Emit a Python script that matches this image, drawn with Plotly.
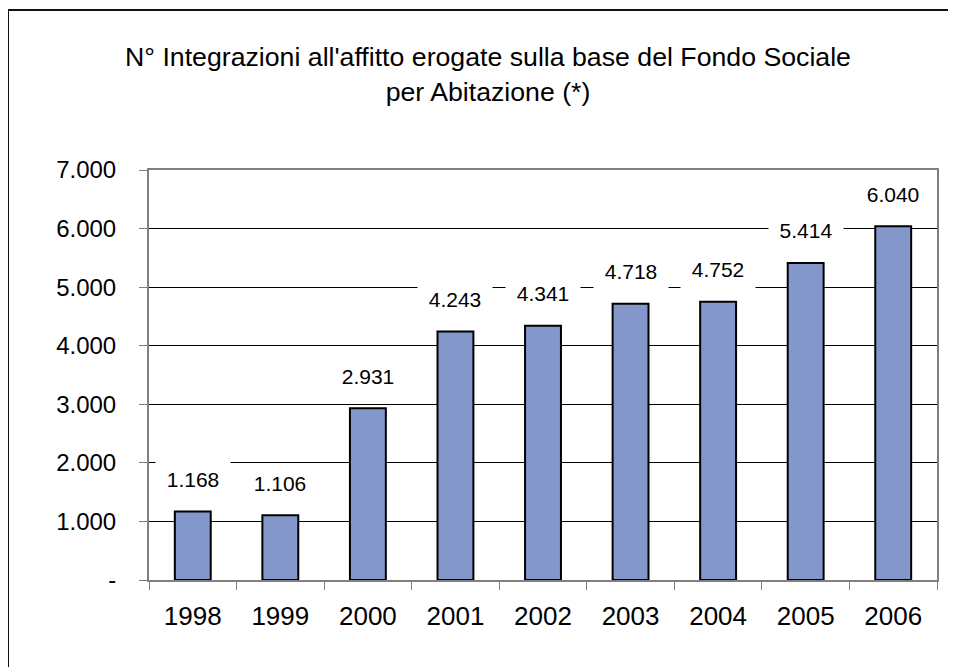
import plotly.graph_objects as go

years = ["1998", "1999", "2000", "2001", "2002", "2003", "2004", "2005", "2006"]
values = [1168, 1106, 2931, 4243, 4341, 4718, 4752, 5414, 6040]
value_labels = ["1.168", "1.106", "2.931", "4.243", "4.341", "4.718", "4.752", "5.414", "6.040"]
y_tickvals = [0, 1000, 2000, 3000, 4000, 5000, 6000, 7000]
y_ticktext = ["-", "1.000", "2.000", "3.000", "4.000", "5.000", "6.000", "7.000"]
title_text = "N° Integrazioni all'affitto erogate sulla base del Fondo Sociale<br>per Abitazione (*)"

FONT = "Liberation Sans, Arial, sans-serif"
OFF = 8  # page body margin
W, H = 948, 659
L, T = 149 - OFF, 170 - OFF
R = W - (937 - OFF)
B = H - (580 - OFF)

fig = go.Figure()
fig.add_trace(go.Bar(
    x=years, y=values,
    marker=dict(color="#8497CB", line=dict(color="#000000", width=2)),
    hoverinfo="skip",
))

annotations = []
for i, (v, lab) in enumerate(zip(values, value_labels)):
    annotations.append(dict(
        x=i, y=v, xref="x", yref="y", text=lab, showarrow=False,
        yshift=32, yanchor="middle", xanchor="center",
        bgcolor="white", width=60, borderpad=7,
        font=dict(family=FONT, size=21, color="black"),
    ))

pw = W - L - R
ph = H - T - B
def px_to_paper_x(px):
    return (px - OFF - L) / pw
def py_to_paper_y(py):
    return (H - B - (py - OFF)) / ph

shapes = [dict(
    type="rect", xref="paper", yref="paper",
    x0=px_to_paper_x(8), x1=px_to_paper_x(990),
    y0=py_to_paper_y(700), y1=py_to_paper_y(10),
    line=dict(color="#111111", width=2), fillcolor="rgba(0,0,0,0)", layer="below",
)]

fig.update_layout(
    width=W, height=H,
    margin=dict(l=L, r=R, t=T, b=B, autoexpand=False),
    paper_bgcolor="white", plot_bgcolor="white",
    bargap=0.59,
    showlegend=False,
    title=dict(
        text=title_text, x=480 / W, xanchor="center", xref="container",
        y=1 - 58 / H, yanchor="middle", yref="container",
        font=dict(family=FONT, size=26.7, color="black"),
    ),
    annotations=annotations,
    shapes=shapes,
    xaxis=dict(
        type="category", range=[-0.5, 8.5], showgrid=False, automargin=False,
        showline=True, linecolor="#808080", linewidth=2, mirror=True,
        ticks="outside", tickson="boundaries", ticklen=8, tickcolor="#808080", tickwidth=1,
        tickfont=dict(family=FONT, size=26, color="black"), tickangle=0,
        ticklabelstandoff=12,
    ),
    yaxis=dict(
        range=[0, 7000], tickvals=y_tickvals, ticktext=y_ticktext, automargin=False,
        showgrid=True, gridcolor="#000000", gridwidth=1,
        showline=True, linecolor="#808080", linewidth=2, mirror=True,
        ticks="outside", ticklen=8, tickcolor="#808080", tickwidth=1,
        tickfont=dict(family=FONT, size=24, color="black"),
        ticklabelstandoff=18, zeroline=False,
    ),
)

fig.write_html("out.html")
